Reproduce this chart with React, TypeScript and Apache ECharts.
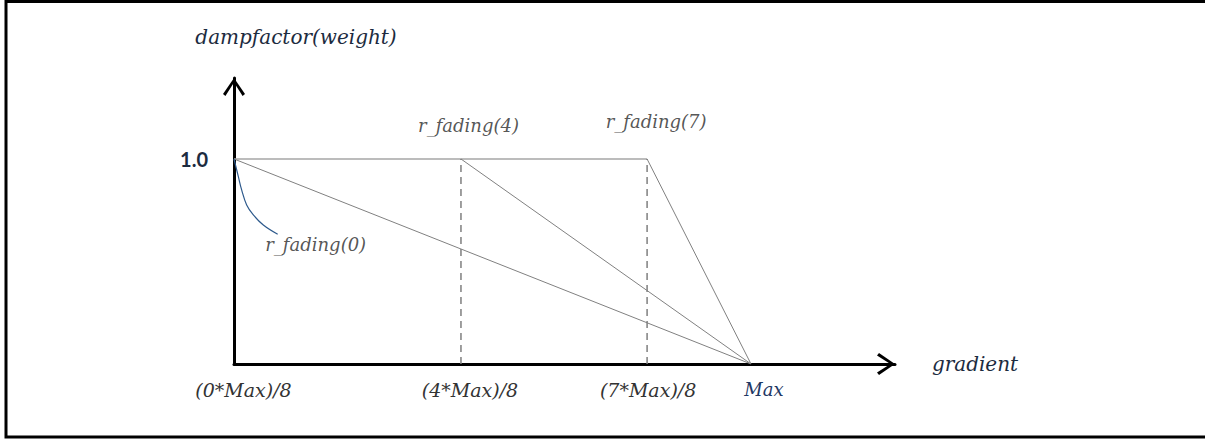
import React, { useEffect, useRef } from "react";
import * as echarts from "echarts";

// Axis extents (the arrow tips) and the labelled positions along each axis
const X_END = 1.2785;
const Y_END = 1.395;
const X_TICKS = [0, 0.439, 0.799, 1];
const X_TICK_LABELS = ["(0*Max)/8", "(4*Max)/8", "(7*Max)/8", "Max"];
const Y_TICKS = [1];
const Y_TICK_LABELS = ["1.0"];

// Full-weight plateau and the three linear fade-outs down to zero at Max
const PLATEAU = [[0, 1], [0.799, 1]];
const FADE_0 = [[0, 1], [1, 0]];
const FADE_4 = [[0.439, 1], [1, 0]];
const FADE_7 = [[0.799, 1], [1, 0]];

// Dashed drop lines under the fade start points
const DROP_4 = [[0.439, 0], [0.439, 1]];
const DROP_7 = [[0.799, 0], [0.799, 1]];

// Leader curve pointing at the r_fading(0) line
const LEADER_0 = [
  [0, 1],
  [0.0083, 0.915],
  [0.0148, 0.849],
  [0.0245, 0.776],
  [0.0374, 0.727],
  [0.0567, 0.678],
  [0.0845, 0.633],
];

// Curve names and the points they are written next to
const CURVE_NAMES = ["r_fading(4)", "r_fading(7)", "r_fading(0)"];
const CURVE_ANCHORS = [[0.439, 1], [0.799, 1], [0.0845, 0.633]];

// Open chevron used as the axis arrow head (points up, rotated by the axis)
const CHEVRON = "path://M11,0 L22,16 L19.6,18 L11,4.6 L2.4,18 L0,16 Z";

const NAVY = "#1c2b40";
const SERIF = "DejaVu Serif";

export default function App() {
  const ref = useRef<HTMLDivElement>(null);

  useEffect(() => {
    if (!ref.current) return;
    const chart = echarts.init(ref.current, null, { renderer: "svg" });

    const labelOffsets = [
      [7.5, -33],
      [9, -37],
      [38, 10],
    ];

    const xRich: Record<string, any> = {};
    const xShift = [19, 18, 2, 26];
    X_TICK_LABELS.forEach((_, i) => {
      const isMax = i === X_TICK_LABELS.length - 1;
      xRich["p" + i] = {
        fontFamily: SERIF,
        fontStyle: "italic",
        fontSize: isMax ? 18 : 19,
        color: isMax ? "#1f3864" : "#333333",
        padding: [0, 0, 0, xShift[i]],
      };
    });

    const axisLine = {
      show: true,
      lineStyle: { color: "#000", width: 3 },
      symbol: ["none", CHEVRON],
      symbolSize: [22, 18],
      symbolOffset: [0, -9],
    };

    const plain = (color: string, width: number, type: any = "solid") => ({
      type: "line" as const,
      symbol: "none",
      silent: true,
      lineStyle: { color, width, type },
    });

    chart.setOption({
      animation: false,
      backgroundColor: "#fff",
      grid: { left: 234, right: 310, top: 78, bottom: 75 },
      xAxis: {
        type: "value",
        min: 0,
        max: X_END,
        name: "gradient",
        nameLocation: "end",
        nameGap: 80,
        nameTextStyle: {
          fontFamily: SERIF,
          fontStyle: "italic",
          fontSize: 20,
          color: NAVY,
          align: "center",
          verticalAlign: "middle",
          padding: [0, 0, 13, 0],
        },
        axisLine,
        axisTick: { show: false },
        splitLine: { show: false },
        axisLabel: {
          customValues: X_TICKS,
          margin: 16,
          formatter: (v: number) => {
            const i = X_TICKS.findIndex((t) => Math.abs(t - v) < 1e-6);
            return i < 0 ? "" : `{p${i}|${X_TICK_LABELS[i]}}`;
          },
          rich: xRich,
        },
      },
      yAxis: {
        type: "value",
        min: 0,
        max: Y_END,
        name: "dampfactor(weight)",
        nameLocation: "end",
        nameGap: 41,
        nameTextStyle: {
          fontFamily: SERIF,
          fontStyle: "italic",
          fontSize: 20,
          color: NAVY,
          align: "center",
          verticalAlign: "middle",
          padding: [0, 0, 0, 124],
        },
        axisLine,
        axisTick: { show: false },
        splitLine: { show: false },
        axisLabel: {
          customValues: Y_TICKS,
          margin: 26,
          fontFamily: "Lato",
          fontWeight: "bold",
          fontSize: 20,
          color: NAVY,
          formatter: (v: number) => {
            const i = Y_TICKS.findIndex((t) => Math.abs(t - v) < 1e-6);
            return i < 0 ? "" : Y_TICK_LABELS[i];
          },
        },
      },
      graphic: [
        {
          // frame open on the right-hand side
          type: "polyline",
          silent: true,
          shape: {
            points: [
              [1215, 1.5],
              [6, 1.5],
              [6, 437],
              [1215, 437],
            ],
          },
          style: { fill: "none", stroke: "#000", lineWidth: 3 },
        },
      ],
      series: [
        { ...plain("#a6a6a6", 1.5), data: PLATEAU },
        { ...plain("#7f7f7f", 1.5, [7, 5]), data: DROP_4 },
        { ...plain("#7f7f7f", 1.5, [7, 5]), data: DROP_7 },
        { ...plain("#808080", 1), data: FADE_0 },
        { ...plain("#808080", 1), data: FADE_4 },
        { ...plain("#808080", 1), data: FADE_7 },
        { ...plain("#2e5a8c", 1.2), smooth: 0.4, data: LEADER_0 },
        {
          type: "scatter",
          symbolSize: 0,
          silent: true,
          data: CURVE_ANCHORS.map((p, i) => ({
            value: p,
            name: CURVE_NAMES[i],
            label: {
              show: true,
              position: "inside",
              offset: labelOffsets[i],
              formatter: "{b}",
              fontFamily: SERIF,
              fontStyle: "italic",
              fontSize: 18,
              color: "#2a2a2a",
            },
          })),
        },
      ],
    });

    return () => chart.dispose();
  }, []);

  return (
    <div
      ref={ref}
      style={{ position: "fixed", left: 0, top: 0, width: 1205, height: 439 }}
    />
  );
}
